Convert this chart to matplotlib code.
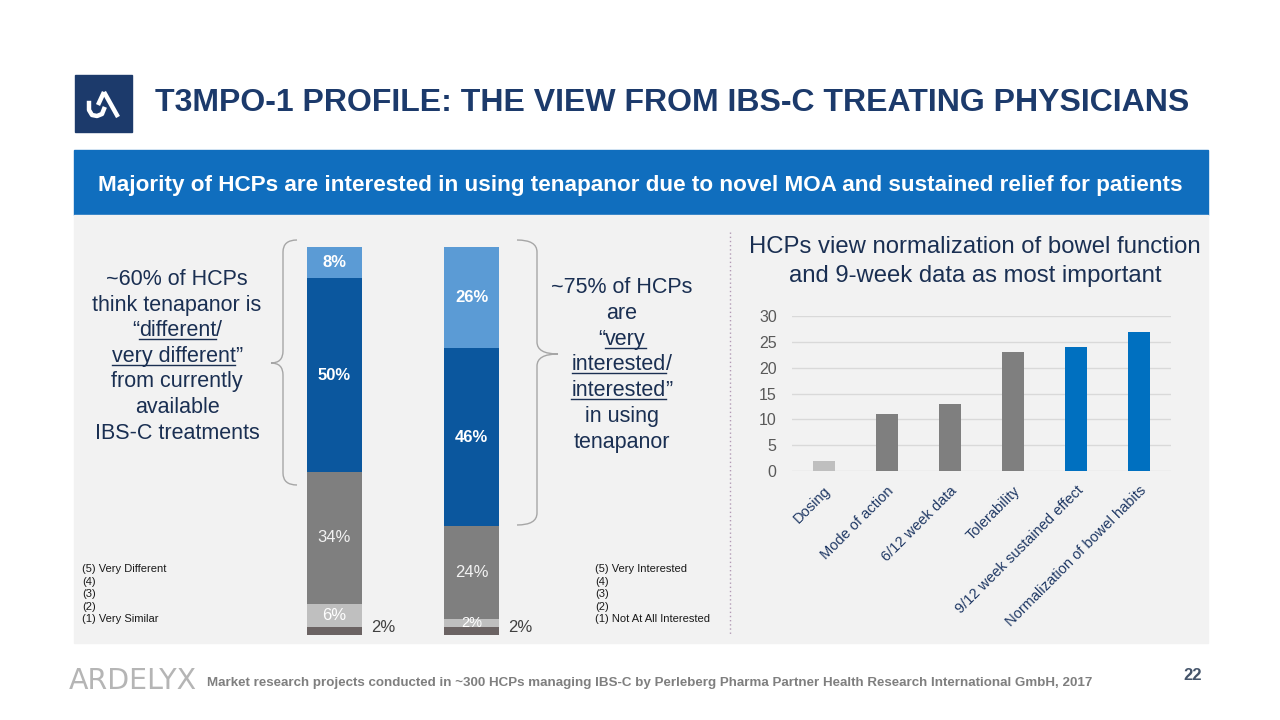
import matplotlib
matplotlib.use('Agg')
import matplotlib.pyplot as plt
from matplotlib.patches import Rectangle, PathPatch
from matplotlib.path import Path

plt.rcParams['font.family'] = ['Liberation Sans', 'DejaVu Sans']

# stacked bars: rating 1..5, bottom to top
stack_groups = ['Different', 'Interested']
rating_levels = ['(1)', '(2)', '(3)', '(4)', '(5)']
different_pct = [2, 6, 34, 50, 8]
interested_pct = [2, 2, 24, 46, 26]

# importance chart
imp_labels = ['Dosing', 'Mode of action', '6/12 week data', 'Tolerability',
              '9/12 week sustained effect', 'Normalization of bowel habits']
imp_values = [2, 11, 13, 23, 24, 27]

NAVY = '#1a2f52'
seg_colors = ['#6b6363', '#bfbfbf', '#7f7f7f', '#0b579e', '#5b9bd5']
imp_colors = ['#bfbfbf', '#7f7f7f', '#7f7f7f', '#7f7f7f', '#0070c0', '#0070c0']

fig = plt.figure(figsize=(12.8, 7.2), dpi=100)
fig.patch.set_facecolor('white')

# full-slide overlay in pixel coords
ax0 = fig.add_axes([0, 0, 1, 1], zorder=0)
ax0.set_xlim(0, 1280)
ax0.set_ylim(720, 0)
ax0.axis('off')

# header
ax0.add_patch(Rectangle((75, 75), 57, 57, color='#1c3a6b'))
ax0.plot([104, 118], [92, 117], color='white', lw=3.2, solid_capstyle='butt')
ax0.plot([104, 98], [92, 105], color='white', lw=3.2, solid_capstyle='butt')
ax0.plot([89, 89, 92, 97, 102, 104], [103, 110, 115, 116, 114, 109], color='white', lw=3.2)
ax0.text(155, 103, 'T3MPO-1 PROFILE: THE VIEW FROM IBS-C TREATING PHYSICIANS',
         fontsize=23, fontweight='bold', color='#1c3a6b', va='center', ha='left')

ax0.add_patch(Rectangle((74, 150), 1134, 65, color='#106ebe'))
ax0.text(640, 185, 'Majority of HCPs are interested in using tenapanor due to novel MOA and sustained relief for patients',
         fontsize=16.2, fontweight='bold', color='white', ha='center', va='center')
ax0.add_patch(Rectangle((74, 215), 1134, 428, color='#f2f2f2'))

# divider
ax0.plot([730, 730], [232, 636], ls=(0, (1, 2)), color='#b39bb5', lw=1)

renderer = fig.canvas.get_renderer()


def seg_line(xc, base, parts, size=15.5):
    texts = [ax0.text(0, base, s, fontsize=size, color=NAVY, ha='left', va='baseline') for s, _ in parts]
    widths = [t.get_window_extent(renderer).width for t in texts]
    x = xc - sum(widths) / 2
    for t, w, (s, ul) in zip(texts, widths, parts):
        t.set_x(x)
        if ul:
            ax0.plot([x, x + w], [base + 3, base + 3], color=NAVY, lw=1)
        x += w


left_lines = [[('~60% of HCPs', False)], [('think tenapanor is', False)],
              [('“', False), ('different', True), ('/', False)],
              [('very different', True), ('”', False)],
              [('from currently', False)], [('available', False)], [('IBS-C treatments', False)]]
right_lines = [[('~75% of HCPs', False)], [('are', False)],
               [('“', False), ('very', True)],
               [('interested', True), ('/', False)],
               [('interested', True), ('”', False)],
               [('in using', False)], [('tenapanor', False)]]
for i, parts in enumerate(left_lines):
    seg_line(177, 285 + 25.6 * i, parts)
for i, parts in enumerate(right_lines):
    seg_line(622, 293 + 25.8 * i, parts)


def brace(xe, xm, xt, y0, y1, ym, r=12):
    verts = [(xe, y0), (xm, y0), (xm, y0 + r),
             (xm, ym - r), (xm, ym), (xt, ym),
             (xm, ym), (xm, ym + r),
             (xm, y1 - r), (xm, y1), (xe, y1)]
    codes = [Path.MOVETO, Path.CURVE3, Path.CURVE3,
             Path.LINETO, Path.CURVE3, Path.CURVE3,
             Path.CURVE3, Path.CURVE3,
             Path.LINETO, Path.CURVE3, Path.CURVE3]
    ax0.add_patch(PathPatch(Path(verts, codes), fill=False, edgecolor='#a6a6a6', lw=1))


brace(297, 283, 271, 240, 485, 363)
brace(517, 537, 558, 240, 525, 354)

# legends
left_leg = ['(5) Very Different', '(4)', '(3)', '(2)', '(1) Very Similar']
right_leg = ['(5) Very Interested', '(4)', '(3)', '(2)', '(1) Not At All Interested']
for i, (a, b) in enumerate(zip(left_leg, right_leg)):
    ax0.text(82, 569 + 12.6 * i, a, fontsize=8, color='#1a1a1a', va='center')
    ax0.text(595, 569 + 12.6 * i, b, fontsize=8, color='#1a1a1a', va='center')

# right chart title
ax0.text(975, 247, 'HCPs view normalization of bowel function', fontsize=17.2, color=NAVY, ha='center', va='center')
ax0.text(975, 276, 'and 9-week data as most important', fontsize=17.2, color=NAVY, ha='center', va='center')

# footer
ax0.text(69, 681, 'ARDELYX', fontsize=20.5, color='#b5b5b5', va='center', ha='left', family='DejaVu Sans')
ax0.text(207, 683, 'Market research projects conducted in ~300 HCPs managing IBS-C by Perleberg Pharma Partner Health Research International GmbH, 2017',
         fontsize=9.6, fontweight='bold', color='#7f7f7f', va='center', ha='left')
ax0.text(1202, 675, '22', fontsize=12, fontweight='bold', color='#44546a', va='center', ha='right')

# stacked bars
axs = fig.add_axes([266 / 1280, 1 - 635 / 720, 274 / 1280, 388 / 720], zorder=1)
axs.set_facecolor('none')
axs.set_xlim(-0.5, 1.5)
axs.set_ylim(0, 100)
axs.axis('off')
for gi, vals in enumerate([different_pct, interested_pct]):
    bottom = 0
    for si, v in enumerate(vals):
        axs.bar(gi, v, bottom=bottom, width=0.40, color=seg_colors[si], linewidth=0)
        mid = bottom + v / 2
        lab = f'{v}%'
        if si >= 3:
            axs.text(gi, mid, lab, color='white', fontsize=12, fontweight='bold', ha='center', va='center')
        elif si == 2:
            axs.text(gi, mid, lab, color='#f2f2f2', fontsize=12, ha='center', va='center')
        elif si == 1:
            axs.text(gi, mid, lab, color='white', fontsize=10.5 if v < 4 else 12, ha='center', va='center')
        else:
            axs.text(gi + 0.27, mid + 1.0, lab, color='#404040', fontsize=12, ha='left', va='center')
        bottom += v

# importance bar chart
axb = fig.add_axes([792 / 1280, 1 - 471 / 720, 379 / 1280, 155 / 720], zorder=1)
axb.set_facecolor('none')
x = range(len(imp_labels))
axb.bar(x, imp_values, width=0.35, color=imp_colors, zorder=3)
axb.set_xlim(-0.5, len(imp_labels) - 0.5)
axb.set_ylim(0, 30)
axb.set_yticks(range(0, 31, 5))
axb.yaxis.grid(True, color='#d9d9d9', lw=1)
axb.set_axisbelow(True)
for s in axb.spines.values():
    s.set_visible(False)
axb.tick_params(axis='y', length=0, labelsize=11.5, labelcolor='#595959', pad=11)
axb.tick_params(axis='x', length=0, pad=9)
axb.set_xticks(list(x))
axb.set_xticklabels(imp_labels, rotation=45, ha='right', rotation_mode='anchor',
                    fontsize=10.5, color='#1f3864')

fig.savefig('out.png', dpi=100, facecolor='white')
